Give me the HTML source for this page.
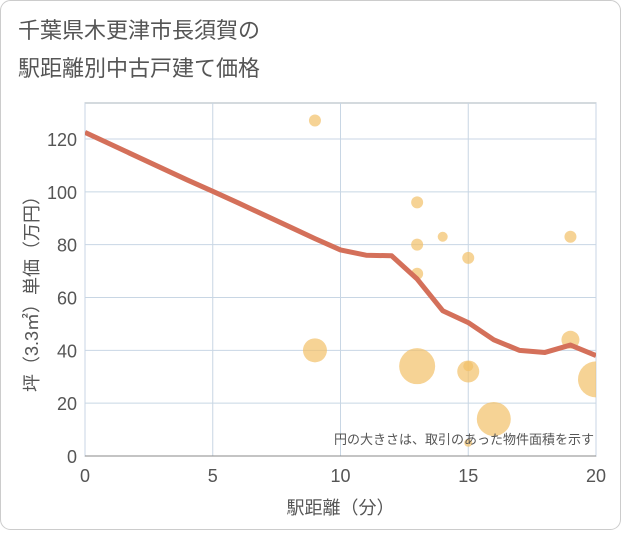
<!DOCTYPE html>
<html><head><meta charset="utf-8"><style>
body{margin:0;background:#fff;font-family:"Liberation Sans","Noto Sans CJK JP",sans-serif;}
#wrap{position:relative;width:621px;height:530px;}
</style></head><body>
<div id="wrap">
<svg id="svg" width="621" height="530">
<defs><clipPath id="pc"><rect x="85" y="103" width="511" height="353"/></clipPath></defs>
<rect x="0.5" y="0.5" width="620" height="529" rx="10" fill="#fff" stroke="#ccc"/>
<text x="18" y="38" font-size="22" fill="#555">千葉県木更津市長須賀の</text>
<text x="18" y="76" font-size="22" fill="#555">駅距離別中古戸建て価格</text>
</svg>
</div>
<script>
const xTicks=[0,5,10,15,20];
const yTicks=[0,20,40,60,80,100,120];
const lineX=[0,1,2,3,4,5,6,7,8,9,10,11,12,13,14,15,16,17,18,19,20];
const lineY=[122.5,118,113.5,109,104.5,100.2,95.8,91.3,86.8,82.3,78,76,75.8,67,55,50.5,44,40,39.2,42,38];
const bubX=[9,9,13,13,13,13,14,15,15,15,15,16,19,19,20];
const bubY=[127,40,34,96,80,69,83,75,32,34,5,14,83,44,29];
const bubR=[6,12,18,6,6,6,5,6,11,5,4,17,6,9,18];
const svg=document.getElementById('svg');const NS='http://www.w3.org/2000/svg';
const L=85,R=596,T=103,B=456;
const sx=v=>L+(R-L)*v/20, sy=v=>B-v*(B-139)/120;
function mk(t,a,par){const e=document.createElementNS(NS,t);for(const k in a)e.setAttribute(k,a[k]);(par||svg).appendChild(e);return e;}
const bg=mk('rect',{x:L,y:T,width:R-L,height:B-T,fill:'#fff',stroke:'#aab4be'});


yTicks.forEach(v=>{
 const g=mk('line',{x1:L,x2:R,y1:sy(v),y2:sy(v),stroke:'#c8d6e4'});
 
 
 const t=mk('text',{x:L-8,y:sy(v)+7,'text-anchor':'end','font-size':'18',fill:'#555'});t.textContent=v;
 
 
});
xTicks.forEach(v=>{
 const g=mk('line',{x1:sx(v),x2:sx(v),y1:T,y2:B,stroke:'#c8d6e4'});
 
 
 const t=mk('text',{x:sx(v),y:B+26,'text-anchor':'middle','font-size':'18',fill:'#555'});t.textContent=v;
 
 
});
const grp=mk('g',{'clip-path':'url(#pc)'});


bubX.forEach((x,i)=>{
 const c=mk('circle',{cx:sx(x),cy:sy(bubY[i]),r:bubR[i],fill:'#f2c068','fill-opacity':'0.7'},grp);
 
 
});
const p=mk('polyline',{points:lineX.map((x,i)=>sx(x)+','+sy(lineY[i])).join(' '),fill:'none',stroke:'#d4705a','stroke-width':'5','stroke-linejoin':'round'},grp);


const ax=mk('line',{x1:L,x2:R,y1:B,y2:B,stroke:'#888'});


const note=mk('text',{x:R-2,y:B-12,'text-anchor':'end','font-size':'13',fill:'#555'});note.textContent='円の大きさは、取引のあった物件面積を示す';


const xt=mk('text',{x:(L+R)/2,y:514,'text-anchor':'middle','font-size':'18',fill:'#555'});xt.textContent='駅距離（分）';


const yt=mk('text',{x:0,y:0,'text-anchor':'middle','font-size':'18',fill:'#555',transform:'translate(38,'+((T+B)/2+10)+') rotate(-90)'});yt.textContent='坪（3.3㎡）単価（万円）';


</script>
</body></html>
